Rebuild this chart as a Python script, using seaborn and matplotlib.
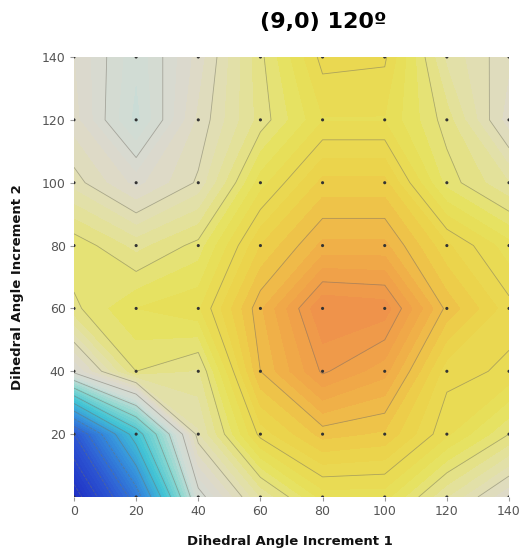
import numpy as np
import matplotlib
matplotlib.use("Agg")
import matplotlib.pyplot as plt
from matplotlib.colors import LinearSegmentedColormap
import seaborn as sns
import pandas as pd

# Scan grid (degrees)
increment_1 = [0, 20, 40, 60, 80, 100, 120, 140]
increment_2 = [0, 20, 40, 60, 80, 100, 120, 140]

# Relative energy surface, one row per value of increment 2
e_000 = [-5.5, -1.5, 4.8, 6.5, 7.6, 7.6, 6.5, 5.5]
e_020 = [-3.0, 1.5, 6.2, 8.1, 8.85, 8.7, 7.8, 7.0]
e_040 = [5.2, 7.0, 6.7, 9.0, 10.05, 9.6, 8.1, 7.95]
e_060 = [6.93, 7.5, 7.7, 9.2, 10.5, 10.4, 8.92, 8.1]
e_080 = [7.2, 6.65, 7.1, 8.5, 9.32, 9.32, 8.3, 7.6]
e_100 = [6.13, 5.4, 6.05, 7.63, 8.58, 8.58, 7.15, 6.5]
e_120 = [5.6, 4.4, 5.8, 6.85, 7.73, 7.73, 6.87, 5.6]
e_140 = [5.5, 4.55, 5.6, 6.93, 8.1, 8.05, 6.43, 5.8]

x_ticks = [0, 20, 40, 60, 80, 100, 120, 140]
y_ticks = [20, 40, 60, 80, 100, 120, 140]

energy = np.array([e_000, e_020, e_040, e_060, e_080, e_100, e_120, e_140])
X, Y = np.meshgrid(increment_1, increment_2)

vmin, vmax = -5.5, 10.8
stops = [
    (-5.5, "#1e2ec4"),
    (-3.0, "#2c55d2"),
    (-0.5, "#3690dc"),
    (1.5, "#42c4d4"),
    (3.2, "#8cd8d0"),
    (4.5, "#cfdcd6"),
    (5.5, "#ddd9cc"),
    (6.5, "#e3e1a4"),
    (7.5, "#e6e25c"),
    (8.5, "#ecd24a"),
    (9.5, "#f0ac48"),
    (10.8, "#ef894c"),
]
cmap = LinearSegmentedColormap.from_list(
    "energy", [((v - vmin) / (vmax - vmin), c) for v, c in stops]
)

sns.set_theme(style="white")
plt.rcParams["font.family"] = ["DejaVu Sans"]

fig = plt.figure(figsize=(5.30, 5.58), dpi=100)
ax = fig.add_axes([74 / 530, 1 - 497 / 558, 435 / 530, 440 / 558])

fill_levels = np.arange(-5.5, 11.01, 0.25)
line_levels = np.arange(-5, 11, 1.0)
ax.contourf(X, Y, energy, levels=fill_levels, cmap=cmap, vmin=vmin, vmax=vmax)
ax.contour(X, Y, energy, levels=line_levels, colors="#6f6f66",
           linewidths=0.6, alpha=0.5)

points = pd.DataFrame({"i1": X.ravel(), "i2": Y.ravel()})
sns.scatterplot(data=points, x="i1", y="i2", ax=ax, s=5, color="#333333",
                edgecolor="none", zorder=5, legend=False)

ax.set_xlim(0, 140)
ax.set_ylim(0, 140)
ax.set_xticks(x_ticks)
ax.set_yticks(y_ticks)
ax.tick_params(bottom=True, left=True, length=3, width=0.8, color="#999999",
               labelsize=9, labelcolor="#555555", pad=3)
for s in ax.spines.values():
    s.set_visible(False)
ax.set_xlabel("")
ax.set_ylabel("")

fig.text(323 / 530, 1 - 22 / 558, "(9,0) 120º", ha="center", va="center",
         fontsize=16, fontweight="bold", color="#000000")
fig.text(290 / 530, 1 - 541 / 558, "Dihedral Angle Increment 1", ha="center",
         va="center", fontsize=9.5, fontweight="bold", color="#111111")
fig.text(18 / 530, 1 - 287 / 558, "Dihedral Angle Increment 2", ha="center",
         va="center", rotation=90, fontsize=9.5, fontweight="bold", color="#111111")

fig.savefig("out.png", dpi=100)
